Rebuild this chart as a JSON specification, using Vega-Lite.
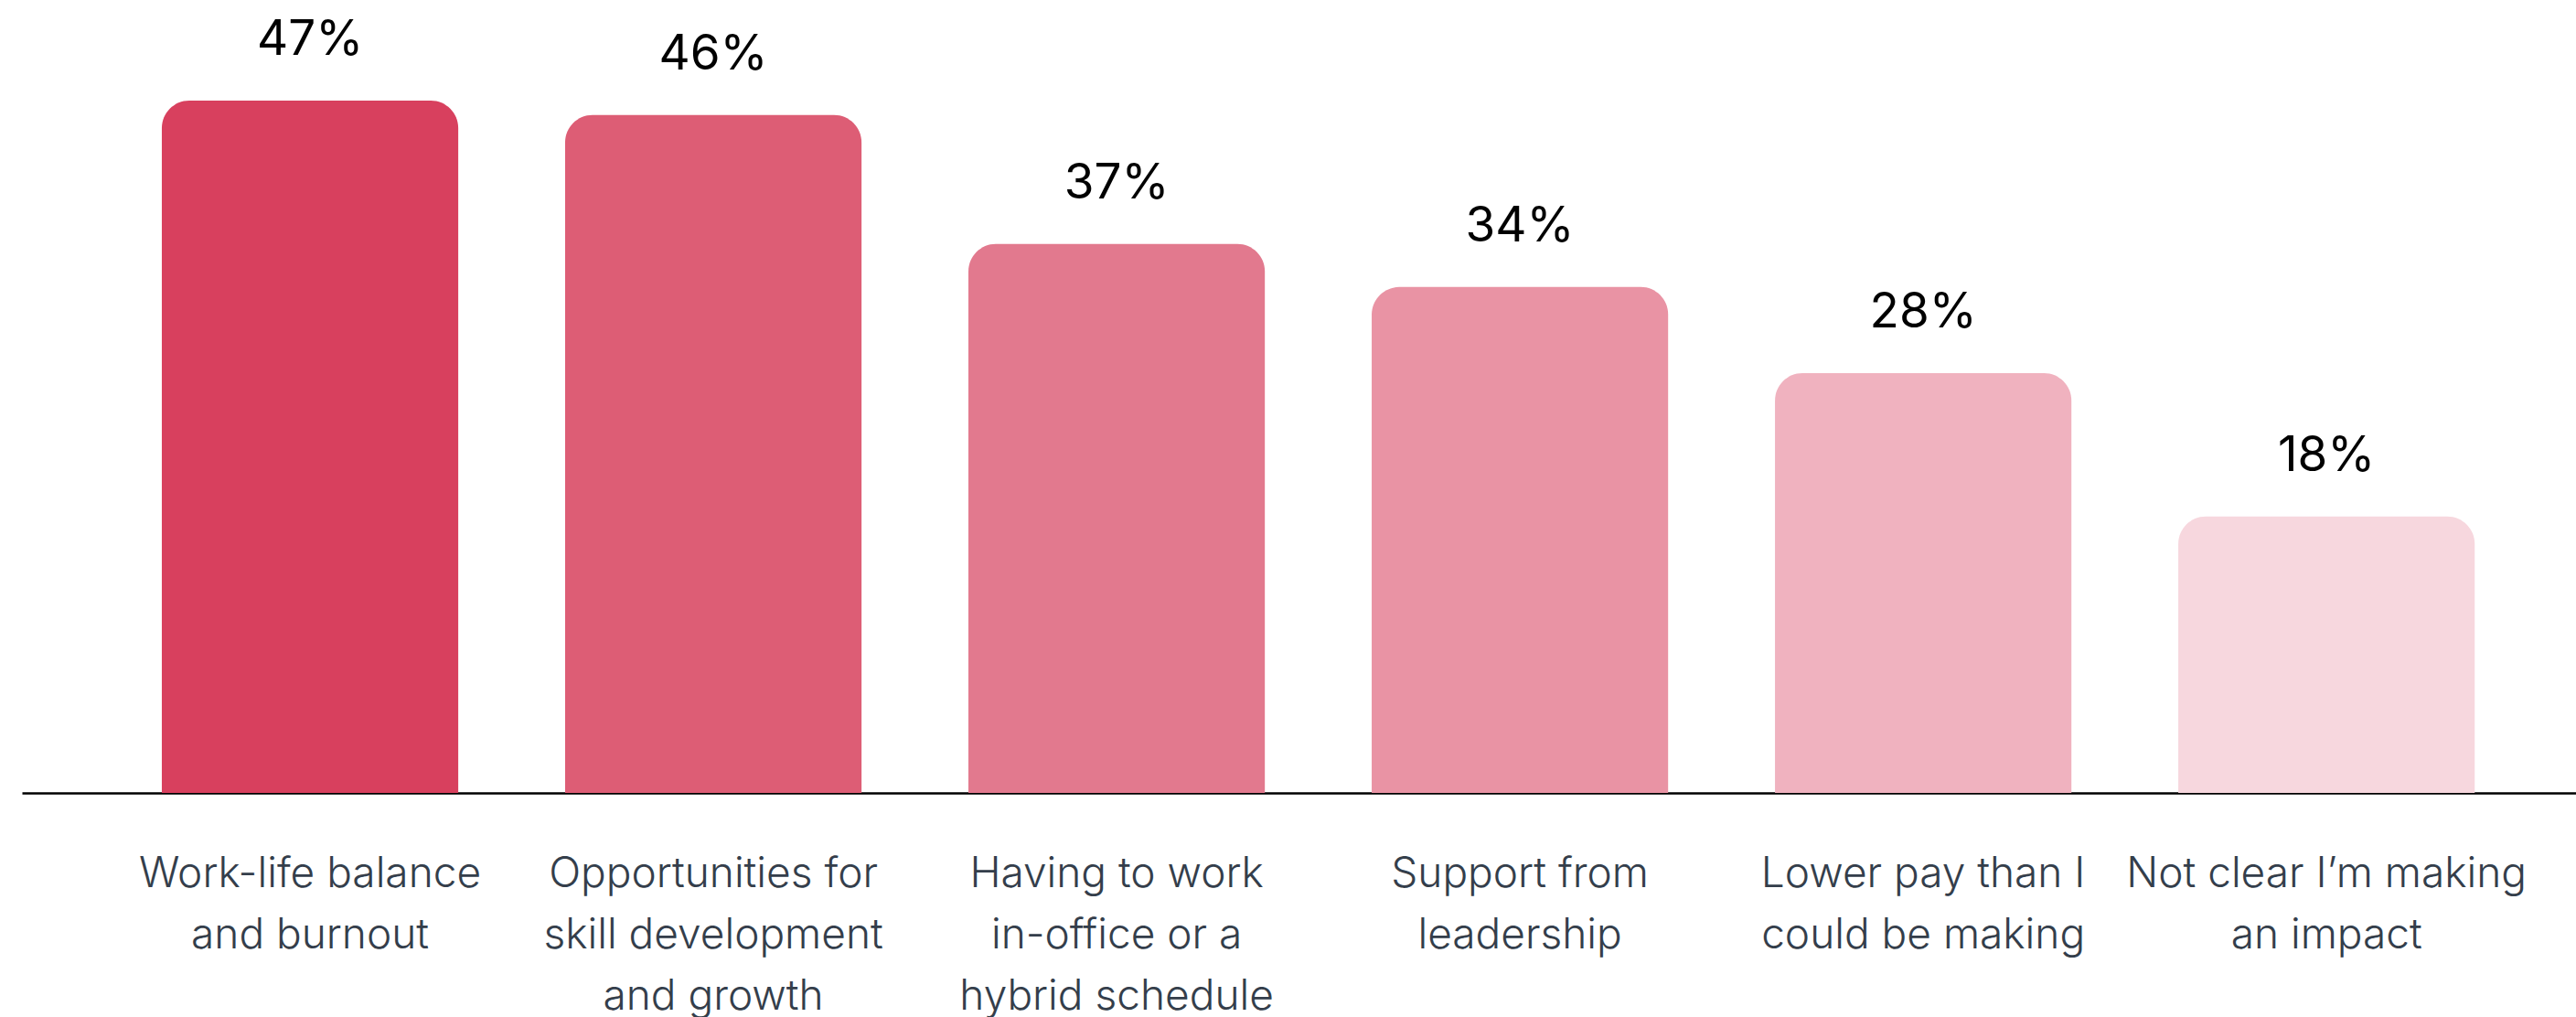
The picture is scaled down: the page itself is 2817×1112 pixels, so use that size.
{
  "$schema": "https://vega.github.io/schema/vega-lite/v6.json",
  "width": 2793,
  "height": 804,
  "autosize": "none",
  "padding": {"left": 24, "top": 63, "right": 0, "bottom": 245},
  "background": "white",
  "config": {
    "view": {"stroke": null},
    "font": "Inter"
  },
  "data": {
    "values": [
      {"reason": "Work-life balance\nand burnout", "share": 0.47},
      {"reason": "Opportunities for\nskill development\nand growth", "share": 0.46},
      {"reason": "Having to work\nin-office or a\nhybrid schedule", "share": 0.37},
      {"reason": "Support from\nleadership", "share": 0.34},
      {"reason": "Lower pay than I\ncould be making", "share": 0.28},
      {"reason": "Not clear I’m making\nan impact", "share": 0.18}
    ]
  },
  "encoding": {
    "x": {
      "field": "reason",
      "type": "nominal",
      "sort": null,
      "scale": {"paddingInner": 0.265, "paddingOuter": 0.299, "align": 0.58},
      "axis": {
        "title": null,
        "labelAngle": 0,
        "labelExpr": "split(datum.value, '\\n')",
        "labelFont": "Inter",
        "labelFontSize": 46,
        "labelFontWeight": 300,
        "labelColor": "#343e4b",
        "labelLineHeight": 67,
        "labelPadding": 66,
        "labelLimit": 0,
        "labelOverlap": false,
        "labelBound": false,
        "labelFlush": false,
        "labelBaseline": "top",
        "ticks": false,
        "domainColor": "#000000",
        "domainWidth": 2.5,
        "grid": false
      }
    },
    "y": {
      "field": "share",
      "type": "quantitative",
      "scale": {"domain": [-0.0128, 0.5], "zero": false, "nice": false},
      "axis": null
    }
  },
  "layer": [
    {
      "mark": {"type": "bar", "cornerRadiusTopLeft": 30, "cornerRadiusTopRight": 30},
      "encoding": {
        "y2": {"datum": -0.0128},
        "color": {
          "field": "reason",
          "type": "nominal",
          "sort": null,
          "scale": {"range": ["#d8405e", "#dd5d75", "#e2798e", "#e993a4", "#f0b2bf", "#f7d7de"]},
          "legend": null
        }
      }
    },
    {
      "mark": {
        "type": "text",
        "baseline": "alphabetic",
        "align": "center",
        "dy": -50,
        "font": "Inter",
        "fontSize": 53,
        "fontWeight": 400,
        "color": "#000000"
      },
      "encoding": {
        "text": {"field": "share", "type": "quantitative", "format": ".0%"}
      }
    }
  ]
}
